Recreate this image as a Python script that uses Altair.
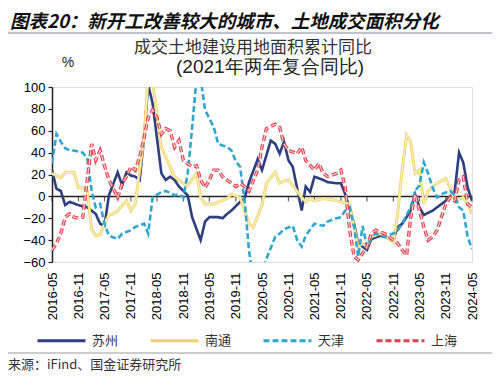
import altair as alt
import pandas as pd

TITLE = "图表20：新开工改善较大的城市、土地成交面积分化"
SUBTITLE1 = "成交土地建设用地面积累计同比"
SUBTITLE2 = "(2021年两年复合同比)"
UNIT = "%"
SOURCE = "来源：iFind、国金证券研究所"

series_names = ["苏州", "南通", "天津", "上海"]
series_colors = ["#2D3F7E", "#EDD36A", "#2EA6CE", "#E0404E"]
series_dashes = [[1, 0], [1, 0], [6, 3], [6, 3]]

x_tick_labels = ["2016-05", "2016-11", "2017-05", "2017-11", "2018-05", "2018-11",
                 "2019-05", "2019-11", "2020-05", "2020-11", "2021-05", "2021-11",
                 "2022-05", "2022-11", "2023-05", "2023-11", "2024-05"]
y_ticks = [-60, -40, -20, 0, 20, 40, 60, 80, 100]

suzhou = [("2016-05",24),("2016-06",7),("2016-07",5),("2016-08",-8),("2016-09",-5),("2016-11",-8),
          ("2017-01",-10),("2017-03",-16),("2017-04",-25),("2017-05",-27),("2017-06",1),("2017-08",22),
          ("2017-09",10),("2017-10",22),("2017-11",19),("2017-12",18),("2018-01",15),("2018-02",54),
          ("2018-03",102),("2018-04",85),("2018-06",21),("2018-07",15),("2018-08",18),("2018-09",15),
          ("2018-10",9),("2018-12",1),("2019-01",-19),("2019-03",-40),("2019-04",-23),("2019-05",-19),
          ("2019-07",-19),("2019-08",-20),("2019-09",-16),("2019-10",-13),("2019-12",-5),("2020-01",-2),
          ("2020-02",13),("2020-04",34),("2020-05",24),("2020-07",51),("2020-08",48),("2020-09",39),
          ("2020-10",50),("2020-11",33),("2020-12",27),("2021-02",-13),("2021-03",9),("2021-04",4),
          ("2021-05",18),("2021-07",15),("2021-08",13),("2021-10",12),("2021-11",12),("2021-12",2),
          ("2022-02",-25),("2022-03",-43),("2022-04",-46),("2022-05",-49),("2022-06",-39),("2022-08",-36),
          ("2022-09",-37),("2022-11",-40),("2022-12",-28),("2023-01",-25),("2023-02",-19),("2023-03",-13),
          ("2023-04",2),("2023-05",-10),("2023-06",-17),("2023-08",-13),("2023-09",-10),("2023-11",-4),
          ("2024-01",4),("2024-02",40),("2024-03",31),("2024-04",8),("2024-05",-4)]

nantong = [("2016-05",21),("2016-06",19),("2016-07",17),("2016-08",22),("2016-09",22),("2016-10",22),
           ("2016-11",8),("2016-12",8),("2017-01",5),("2017-02",-30),("2017-03",-36),("2017-04",-35),
           ("2017-05",-25),("2017-06",-17),("2017-07",-16),("2017-08",-13),("2017-10",-4),("2017-11",-13),
           ("2017-12",-7),("2018-01",24),("2018-02",54),("2018-03",110),("2018-04",104),("2018-05",76),
           ("2018-06",45),("2018-08",27),("2018-09",18),("2018-11",12),("2018-12",10),("2019-02",21),
           ("2019-03",-1),("2019-04",-7),("2019-06",-7),("2019-09",-2),("2019-10",2),("2019-12",-1),
           ("2020-01",-13),("2020-02",-25),("2020-03",-28),("2020-04",-18),("2020-05",-8),("2020-06",12),
           ("2020-08",22),("2020-09",12),("2020-10",14),("2020-11",15),("2020-12",10),("2021-02",-1),
           ("2021-03",-5),("2021-04",-2),("2021-05",-4),("2021-07",-2),("2021-09",-3),("2021-11",-5),
           ("2022-01",-7),("2022-02",-28),("2022-03",-46),("2022-04",-43),("2022-05",-46),("2022-06",-37),
           ("2022-08",-34),("2022-09",-36),("2022-11",-42),("2022-12",-16),("2023-01",24),("2023-02",56),
           ("2023-03",50),("2023-04",21),("2023-05",24),("2023-06",-7),("2023-07",5),("2023-09",12),
           ("2023-11",16),("2023-12",8),("2024-01",-4),("2024-03",-1),("2024-04",-7),("2024-05",-16)]

tianjin = [("2016-05",30),("2016-06",57),("2016-07",50),("2016-08",44),("2016-09",42),("2016-10",42),
           ("2016-11",41),("2016-12",40),("2017-01",35),("2017-02",5),("2017-03",-10),("2017-04",-7),
           ("2017-05",-25),("2017-06",-36),("2017-08",-39),("2017-09",-34),("2017-11",-31),("2017-12",-28),
           ("2018-02",-25),("2018-03",-34),("2018-04",-1),("2018-06",4),("2018-07",5),("2018-09",1),
           ("2018-10",2),("2018-11",-1),("2018-12",21),("2019-01",63),("2019-02",108),("2019-03",108),
           ("2019-04",79),("2019-06",63),("2019-07",48),("2019-09",45),("2019-10",42),("2019-11",32),
           ("2019-12",27),("2020-01",-4),("2020-02",-50),("2020-03",-75),("2020-04",-75),("2020-05",-70),
           ("2020-06",-57),("2020-08",-37),("2020-09",-34),("2020-10",-30),("2020-12",-27),("2021-01",-40),
           ("2021-02",-46),("2021-03",-36),("2021-05",-25),("2021-07",-27),("2021-08",-23),("2021-10",-20),
           ("2021-11",-19),("2021-12",-13),("2022-01",-10),("2022-02",-28),("2022-03",-55),("2022-04",-27),
           ("2022-05",-46),("2022-06",-37),("2022-07",-34),("2022-09",-37),("2022-11",-34),("2022-12",-31),
           ("2023-01",-25),("2023-03",-10),("2023-04",5),("2023-05",10),("2023-06",31),("2023-07",21),
           ("2023-08",8),("2023-09",-1),("2023-10",2),("2023-12",5),("2024-01",1),("2024-02",-10),
           ("2024-03",-13),("2024-04",-37),("2024-05",-48)]

shanghai = [("2016-05",-49),("2016-06",-43),("2016-07",-34),("2016-08",-19),("2016-09",-16),("2016-10",-19),
            ("2016-11",-20),("2016-12",-19),("2017-01",15),("2017-02",48),("2017-03",33),("2017-04",42),
            ("2017-05",28),("2017-06",15),("2017-08",-1),("2017-09",12),("2017-10",18),("2017-11",27),
            ("2017-12",24),("2018-01",36),("2018-02",54),("2018-03",72),("2018-04",79),("2018-05",72),
            ("2018-06",57),("2018-07",62),("2018-08",60),("2018-09",45),("2018-10",51),("2018-11",33),
            ("2018-12",30),("2019-01",27),("2019-02",28),("2019-03",15),("2019-04",8),("2019-05",15),
            ("2019-06",24),("2019-07",24),("2019-08",18),("2019-10",12),("2019-11",9),("2019-12",12),
            ("2020-01",9),("2020-02",5),("2020-04",24),("2020-05",45),("2020-06",62),("2020-08",66),
            ("2020-09",63),("2020-10",48),("2020-11",42),("2021-01",39),("2021-02",45),("2021-03",33),
            ("2021-05",24),("2021-06",30),("2021-07",21),("2021-08",18),("2021-10",21),("2021-11",24),
            ("2021-12",8),("2022-01",-31),("2022-02",-55),("2022-03",-58),("2022-04",-52),("2022-05",-46),
            ("2022-06",-34),("2022-07",-31),("2022-09",-34),("2022-10",-37),("2022-12",-43),("2023-01",-49),
            ("2023-02",-54),("2023-03",-20),("2023-04",2),("2023-05",-13),("2023-06",-28),("2023-07",-40),
            ("2023-08",-37),("2023-09",-31),("2023-10",-19),("2023-11",-7),("2023-12",-1),("2024-01",-4),
            ("2024-02",15),("2024-03",18),("2024-04",-7),("2024-05",-10)]

series_data = [suzhou, nantong, tianjin, shanghai]

rows = []
for name, pts in zip(series_names, series_data):
    for d, v in pts:
        rows.append({"date": d + "-01", "value": v, "series": name})
df = pd.DataFrame(rows)


def dt(s):
    y, m = s.split("-")
    return alt.DateTime(year=int(y), month=int(m), date=1, utc=True)


FONT_CN = "Noto Sans CJK SC"
FONT_NUM = "Liberation Sans"

x_enc = alt.X("date:T",
              scale=alt.Scale(type="utc", domain=[dt(x_tick_labels[0]), dt(x_tick_labels[-1])]),
              axis=alt.Axis(values=[dt(s) for s in x_tick_labels],
                            labelExpr="utcFormat(datum.value, '%Y-%m')",
                            labelAngle=270, labelAlign="right", labelBaseline="middle",
                            domain=False, ticks=False, grid=False, labelPadding=10,
                            labelFont=FONT_NUM, labelFontSize=13, labelColor="#000",
                            labelOverlap=False, labelBound=False, title=None))
y_enc = alt.Y("value:Q",
              scale=alt.Scale(domain=[-60, 100], nice=False, zero=False),
              axis=alt.Axis(values=y_ticks, domainColor="#222", domainWidth=1.5,
                            tickColor="#222", tickSize=4, tickWidth=1.2,
                            labelFont=FONT_NUM, labelFontSize=13, labelColor="#000",
                            labelOverlap=False, labelBound=False,
                            labelPadding=3, grid=False, title=None))

legend = alt.Legend(title=None, orient="none", legendX=-16, legendY=228,
                    direction="horizontal", columns=4, symbolType="stroke",
                    symbolSize=2304, symbolStrokeWidth=3, labelFont=FONT_CN,
                    labelFontSize=13, labelColor="#333", labelOffset=5,
                    columnPadding=25)
color_enc = alt.Color("series:N", scale=alt.Scale(domain=series_names, range=series_colors),
                      legend=legend)
dash_enc = alt.StrokeDash("series:N", scale=alt.Scale(domain=series_names, range=series_dashes),
                          legend=legend)

base = alt.Chart(df)

zero_df = pd.DataFrame({"date": [s + "-01" for s in x_tick_labels], "value": [0] * len(x_tick_labels)})
zero_rule = alt.Chart(pd.DataFrame({"value": [0]})).mark_rule(color="#222", strokeWidth=1.5).encode(
    y=y_enc)
zero_ticks = alt.Chart(zero_df).mark_tick(
    color="#222", thickness=1.2, size=5, orient="vertical", yOffset=2.5).encode(
    x=x_enc, y=y_enc)

line_widths = {"苏州": 2.6, "南通": 3.0, "天津": 2.6, "上海": 3.4}
line_layers = []
for name in series_names:
    line_layers.append(
        base.transform_filter(alt.datum.series == name).mark_line(
            clip=True, strokeWidth=line_widths[name], strokeJoin="miter").encode(
            x=x_enc, y=y_enc, color=color_enc, strokeDash=dash_enc, detail="series:N"))
    if name == "南通":
        line_layers.append(
            base.transform_filter(alt.datum.series == name).mark_line(
                clip=True, strokeWidth=1.2, color="#FBF1C2").encode(x=x_enc, y=y_enc))
    if name == "上海":
        line_layers.append(
            base.transform_filter(alt.datum.series == name).mark_line(
                clip=True, strokeWidth=1.2, color="#F8C9CC", strokeDash=[6, 3]).encode(x=x_enc, y=y_enc))


def text_layer(txt, x, y, size, align="left", weight="normal", style="normal", font=FONT_CN, color="#222"):
    return alt.Chart(pd.DataFrame({"t": [txt]})).mark_text(
        align=align, baseline="middle", fontSize=size, fontWeight=weight, fontStyle=style,
        font=font, color=color).encode(x=alt.value(x), y=alt.value(y), text="t:N")


def hline(y, color):
    return alt.Chart(pd.DataFrame({"t": [0]})).mark_rule(color=color, strokeWidth=1.2).encode(
        x=alt.value(-44), x2=alt.value(440), y=alt.value(y))


decor = [
    text_layer(TITLE, -42, -65, 18.5, weight="bold", style="italic", color="#111"),
    hline(-54, "#7F8A9A"),
    text_layer(SUBTITLE1, 201, -39, 17, align="center", color="#333"),
    text_layer(SUBTITLE2, 218, -20, 19, align="center", font=FONT_NUM, color="#222"),
    text_layer(UNIT, 16, -24, 14, align="center", font=FONT_NUM, color="#222"),
    hline(266, "#9A9A9A"),
    text_layer(SOURCE, -44, 278, 13, color="#333"),
]

chart = alt.layer(zero_rule, zero_ticks, *line_layers, *decor).properties(
    width=420, height=175,
    autosize=alt.AutoSizeParams(type="none"),
    padding={"left": 44, "top": 79, "right": 20, "bottom": 111},
).configure_view(stroke=None).configure(background="white")

chart.save("out.html", embed_options={"renderer": "svg", "actions": False})
